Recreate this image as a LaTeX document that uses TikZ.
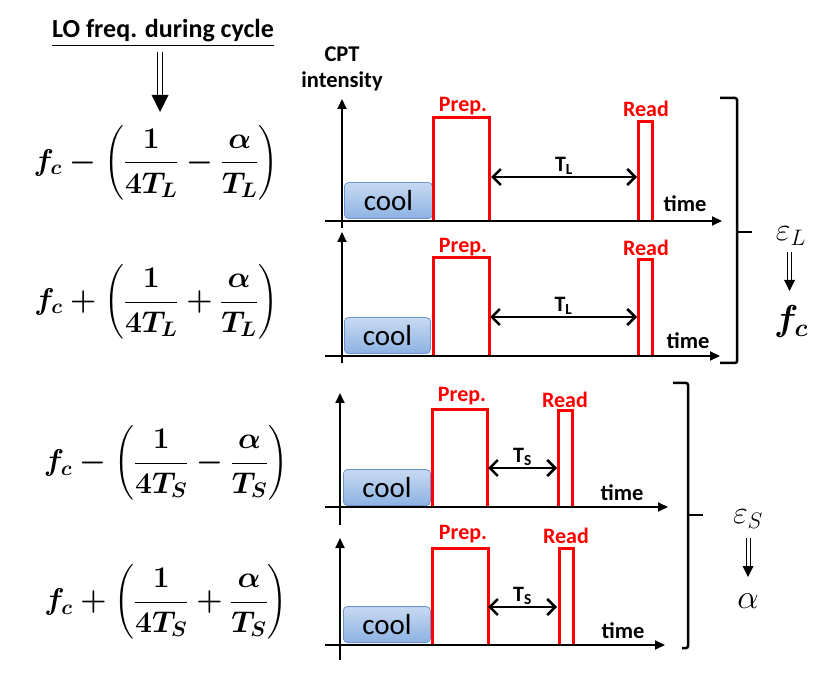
\RequirePackage{fix-cm}
\documentclass[tikz,border=0pt]{standalone}
\usepackage{amsmath}
\usepackage{fontspec}
\setmainfont{Carlito}
\usetikzlibrary{arrows.meta}
\definecolor{pulsered}{RGB}{255,0,0}
\definecolor{coolfill1}{RGB}{200,218,242}
\definecolor{coolfill2}{RGB}{140,178,226}
\definecolor{coolborder}{RGB}{110,150,205}
\newcommand{\fsz}[1]{\fontsize{#1}{#1}\selectfont}
\newsavebox{\frmboxA}
\newsavebox{\frmboxB}
\newsavebox{\frmboxC}
\newsavebox{\frmboxD}
\newsavebox{\fcbox}
\tikzset{
  axisline/.style={line width=2pt, -{Triangle[length=10pt,width=9pt]}},
  pulseline/.style={draw=pulsered, line width=3pt, line join=miter},
  tarrow/.style={line width=2.5pt, {Straight Barb[length=8pt,width=16pt,line width=2.5pt]}-{Straight Barb[length=8pt,width=16pt,line width=2.5pt]}},
  coolbox/.style={draw=coolborder, line width=0.8pt, rounded corners=4pt, top color=coolfill1, bottom color=coolfill2, minimum width=88pt, minimum height=36pt, inner sep=0pt, font=\fsz{29}, anchor=south west},
  redlab/.style={text=pulsered, font=\fsz{22}\bfseries, inner sep=0pt},
  blab/.style={font=\fsz{22.5}\bfseries, inner sep=0pt},
  tlab/.style={font=\fsz{22}\bfseries, inner sep=1pt, above},
  brk/.style={line width=2.5pt, rounded corners=2pt},
  frmnode/.style={inner sep=0pt},
  rmnode/.style={inner sep=0pt},
}
\begin{document}
\sbox{\frmboxA}{\fsz{30}\boldmath$f_c-\left(\dfrac{\mathbf{1}}{\mathbf{4}T_L}-\dfrac{\alpha}{T_L}\right)$}%
\sbox{\frmboxB}{\fsz{30}\boldmath$f_c+\left(\dfrac{\mathbf{1}}{\mathbf{4}T_L}+\dfrac{\alpha}{T_L}\right)$}%
\sbox{\frmboxC}{\fsz{30}\boldmath$f_c-\left(\dfrac{\mathbf{1}}{\mathbf{4}T_S}-\dfrac{\alpha}{T_S}\right)$}%
\sbox{\frmboxD}{\fsz{30}\boldmath$f_c+\left(\dfrac{\mathbf{1}}{\mathbf{4}T_S}+\dfrac{\alpha}{T_S}\right)$}%
\sbox{\fcbox}{\fsz{36}\boldmath$f_c$}%
\begin{tikzpicture}[x=1pt,y=-1pt]
\useasboundingbox (0,0) rectangle (830,692);

% title and arrow
\node[font=\fsz{26}\bfseries, inner sep=0pt] (title) at (163,33) {\underline{LO freq. during cycle}};
\node[frmnode] (form1) at (156,163) {\usebox{\frmboxA}};
\node[frmnode] (form2) at (156,302) {\usebox{\frmboxB}};
\node[frmnode] (form3) at (166,463) {\usebox{\frmboxC}};
\node[frmnode] (form4) at (166,602) {\usebox{\frmboxD}};
\coordinate (ta) at (160,52);
\coordinate (tb) at (160,112);
\draw[line width=1.2pt] ([xshift=-2.5pt]ta) -- ([xshift=-2.5pt,yshift=16pt]tb);
\draw[line width=1.2pt] ([xshift=2.5pt]ta) -- ([xshift=2.5pt,yshift=16pt]tb);
\fill (tb) -- ([xshift=-8.5pt,yshift=17pt]tb) -- ([xshift=8.5pt,yshift=17pt]tb) -- cycle;

\node[blab, align=center] (cpt) at (342,69) {CPT\\[4pt]intensity};

% ---------- panel 1 ----------
\coordinate (y1b) at (342,228); \coordinate (y1t) at (342,99);
\coordinate (x1l) at (325,221); \coordinate (x1r) at (722,221);
\node[coolbox] (cool1) at (344,219) {cool};
\draw[pulseline] (433,221) -- (433,118) -- (489,118) -- (489,221);
\draw[pulseline] (638,221) -- (638,122) -- (652,122) -- (652,221);
\draw[axisline] (y1b) -- (y1t);
\draw[axisline] (x1l) -- (x1r);
\node[redlab] (prep1) at (463,106) {Prep.};
\node[redlab] (read1) at (646,109) {Read};
\node[blab] (time1) at (685,204) {time};
\coordinate (t1a) at (491,177); \coordinate (t1b) at (637,177);
\draw[tarrow] (t1a) -- node[tlab] (tl1) {T\textsubscript{L}} (t1b);

% ---------- panel 2 ----------
\coordinate (y2b) at (342,363); \coordinate (y2t) at (342,232);
\coordinate (x2l) at (325,356); \coordinate (x2r) at (720,356);
\node[coolbox, minimum width=86pt] (cool2) at (344,354) {cool};
\draw[pulseline] (433,356) -- (433,258) -- (489,258) -- (489,356);
\draw[pulseline] (638,356) -- (638,260) -- (652,260) -- (652,356);
\draw[axisline] (y2b) -- (y2t);
\draw[axisline] (x2l) -- (x2r);
\node[redlab] (prep2) at (463,247) {Prep.};
\node[redlab] (read2) at (646,248) {Read};
\node[blab] (time2) at (688,341) {time};
\coordinate (t2a) at (490,317); \coordinate (t2b) at (637,317);
\draw[tarrow] (t2a) -- node[tlab] (tl2) {T\textsubscript{L}} (t2b);

% bracket 1
\coordinate (b1t) at (720,98); \coordinate (b1b) at (720,363);
\coordinate (b1m) at (737,232); \coordinate (b1n) at (752,232);
\draw[brk] (b1t) -- (737,98) -- (737,363) -- (b1b);
\draw[line width=2.5pt] (b1m) -- (b1n);
\node[rmnode] (epsL) at (791,236) {\fsz{32}$\varepsilon_L$};
\node[rmnode] (fcr) at (791,322) {\usebox{\fcbox}};
\coordinate (a1) at (789.5,252); \coordinate (a1b) at (789.5,291);
\draw[line width=0.9pt] ([xshift=-2pt]a1) -- ([xshift=-2pt,yshift=10pt]a1b);
\draw[line width=0.9pt] ([xshift=2pt]a1) -- ([xshift=2pt,yshift=10pt]a1b);
\fill (a1b) -- ([xshift=-5.5pt,yshift=11pt]a1b) -- ([xshift=5.5pt,yshift=11pt]a1b) -- cycle;

% ---------- panel 3 ----------
\coordinate (y3b) at (340,525); \coordinate (y3t) at (340,393);
\coordinate (x3l) at (325,507); \coordinate (x3r) at (668,507);
\node[coolbox, minimum width=87pt] (cool3) at (343,506) {cool};
\draw[pulseline] (432,507) -- (432,410) -- (487,410) -- (487,507);
\draw[pulseline] (558,507) -- (558,411) -- (572,411) -- (572,507);
\draw[axisline] (y3b) -- (y3t);
\draw[axisline] (x3l) -- (x3r);
\node[redlab] (prep3) at (462,396) {Prep.};
\node[redlab] (read3) at (565,400) {Read};
\node[blab] (time3) at (622,493) {time};
\coordinate (t3a) at (488,468); \coordinate (t3b) at (557,468);
\draw[tarrow] (t3a) -- node[tlab] (ts3) {T\textsubscript{S}} (t3b);

% ---------- panel 4 ----------
\coordinate (y4b) at (340,660); \coordinate (y4t) at (340,538);
\coordinate (x4l) at (325,645); \coordinate (x4r) at (665,645);
\node[coolbox, minimum width=87pt] (cool4) at (343,643) {cool};
\draw[pulseline] (432,645) -- (432,548) -- (488,548) -- (488,645);
\draw[pulseline] (559,645) -- (559,548) -- (573,548) -- (573,645);
\draw[axisline] (y4b) -- (y4t);
\draw[axisline] (x4l) -- (x4r);
\node[redlab] (prep4) at (463,534) {Prep.};
\node[redlab] (read4) at (566,536) {Read};
\node[blab] (time4) at (623,631) {time};
\coordinate (t4a) at (488,607); \coordinate (t4b) at (557,607);
\draw[tarrow] (t4a) -- node[tlab] (ts4) {T\textsubscript{S}} (t4b);

% bracket 2
\coordinate (b2t) at (673,383); \coordinate (b2b) at (682,648);
\coordinate (b2m) at (688,515); \coordinate (b2n) at (703,515);
\draw[brk] (b2t) -- (688,383) -- (688,648) -- (b2b);
\draw[line width=2.5pt] (b2m) -- (b2n);
\node[rmnode] (epsS) at (748,519) {\fsz{32}$\varepsilon_S$};
\node[rmnode] (alp) at (748,601) {\fsz{34}$\alpha$};
\coordinate (a2) at (748,538); \coordinate (a2b) at (748,577);
\draw[line width=0.9pt] ([xshift=-2pt]a2) -- ([xshift=-2pt,yshift=10pt]a2b);
\draw[line width=0.9pt] ([xshift=2pt]a2) -- ([xshift=2pt,yshift=10pt]a2b);
\fill (a2b) -- ([xshift=-5.5pt,yshift=11pt]a2b) -- ([xshift=5.5pt,yshift=11pt]a2b) -- cycle;
\end{tikzpicture}
\end{document}
